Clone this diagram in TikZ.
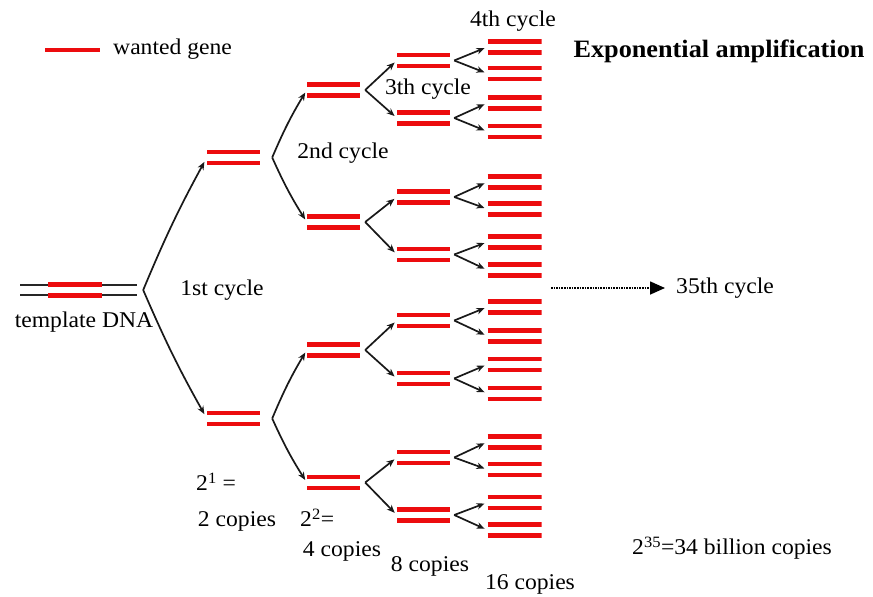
\documentclass[tikz,border=0pt]{standalone}
\usepackage{fontspec}
\setmainfont{Liberation Serif}[FakeStretch=1.05]
\usetikzlibrary{arrows.meta,calc}
\definecolor{gene}{RGB}{236,12,14}
\tikzset{
  txt/.style={font=\fontsize{22.5}{26}\selectfont, inner sep=0pt},
  copyn/.style={minimum width=53pt, minimum height=16pt, inner sep=0pt, path picture={
    \draw[gene, line width=4.5pt] ([yshift=5.5pt]path picture bounding box.west) -- ([yshift=5.5pt]path picture bounding box.east);
    \draw[gene, line width=4.5pt] ([yshift=-5.5pt]path picture bounding box.west) -- ([yshift=-5.5pt]path picture bounding box.east);}},
  dnan/.style={minimum width=117pt, minimum height=14pt, inner sep=0pt, path picture={
    \draw[black!85, line width=1.8pt] ([yshift=5pt]path picture bounding box.west) -- ([yshift=5pt]path picture bounding box.east);
    \draw[black!85, line width=1.8pt] ([yshift=-5pt]path picture bounding box.west) -- ([yshift=-5pt]path picture bounding box.east);}},
  conn/.style={line width=1.7pt, black!90, -{Stealth[length=8pt,width=6.5pt]}, shorten >=3pt},
}
\begin{document}
\begin{tikzpicture}[x=1pt,y=-1pt]
\useasboundingbox (0,0) rectangle (873,597);
\fill[white] (0,0) rectangle (873,597);

% legend
\coordinate (lg1) at (45,50);
\coordinate (lg2) at (100,50);
\draw[gene, line width=4.5pt] (lg1) -- (lg2);
\node[txt, anchor=west] (lgt) at (113,49) {wanted gene};
\node[txt, font=\fontsize{25}{28}\selectfont\bfseries] (title) at (719,51) {Exponential amplification};

% template
\node[dnan] (tmpl) at (78.5,290) {};
\node[copyn, minimum width=54pt, minimum height=15pt] (tgene) at (75,290) {};
\node[txt] (tlab) at (84,322) {template DNA};
\coordinate (v0) at ($(tmpl.east)+(6,0)$);

% level 1
\node[copyn] (a1) at (233.5,157.5) {};
\node[copyn] (a2) at (233.5,418.5) {};
\draw[conn, shorten >=5pt] (v0) to[bend left=3] (a1.west);
\draw[conn, shorten >=5pt] (v0) to[bend right=3] (a2.west);

% level 2
\node[copyn] (b1) at (333.5,90) {};
\node[copyn] (b2) at (333.5,222) {};
\node[copyn] (b3) at (333.5,350) {};
\node[copyn] (b4) at (333.5,482.5) {};
\foreach \s/\t/\u in {a1/b1/b2, a2/b3/b4}{
  \coordinate (v\s) at ($(\s.east)+(12,0)$);
  \draw[conn] (v\s) to[bend left=4] (\t.west);
  \draw[conn] (v\s) to[bend right=4] (\u.west);
}

% level 3
\foreach \i/\y in {1/60.5,2/118,3/197,4/254.5,5/320.5,6/378.5,7/457.5,8/515}{
  \node[copyn] (c\i) at (423.5,\y) {};
}
\foreach \s/\t/\u in {b1/c1/c2, b2/c3/c4, b3/c5/c6, b4/c7/c8}{
  \coordinate (v\s) at ($(\s.east)+(5,0)$);
  \draw[conn] (v\s) -- (\t.west);
  \draw[conn] (v\s) -- (\u.west);
}

% level 4
\foreach \i/\ya/\yb in {1/47/73.5,2/103/131.5,3/182/209,4/242/270,5/307/336,6/364.5/393.5,7/442/469.5,8/502.5/530}{
  \node[copyn, minimum width=54pt] (d\i a) at (514.5,\ya) {};
  \node[copyn, minimum width=54pt] (d\i b) at (514.5,\yb) {};
  \coordinate (vc\i) at ($(c\i.east)+(4,0)$);
  \draw[conn] (vc\i) -- (d\i a.west);
  \draw[conn] (vc\i) -- (d\i b.west);
}

% cycle labels
\node[txt] (cy1) at (222,290) {1st cycle};
\node[txt] (cy2) at (343,153) {2nd cycle};
\node[txt] (cy3) at (428,89) {3th cycle};
\node[txt] (cy4) at (513,21) {4th cycle};
\node[txt, anchor=west] (cy35) at (676,288) {35th cycle};
\coordinate (dstart) at (551,288);
\draw[line width=1.6pt, densely dotted, -{Triangle[length=15pt,width=13pt]}, shorten >=11pt] (dstart) -- (cy35.west);

% copy counts
\node[txt, anchor=west] (n1) at (196,482) {2\textsuperscript{1} =};
\node[txt] (n1b) at (237,521) {2 copies};
\node[txt, anchor=west] (n2) at (300,518) {2\textsuperscript{2}=};
\node[txt] (n2b) at (342,551) {4 copies};
\node[txt] (n3) at (430,566) {8 copies};
\node[txt] (n4) at (530,584) {16 copies};
\node[txt, anchor=west] (n35) at (632,548) {2\textsuperscript{35}=34 billion copies};
\end{tikzpicture}
\end{document}
